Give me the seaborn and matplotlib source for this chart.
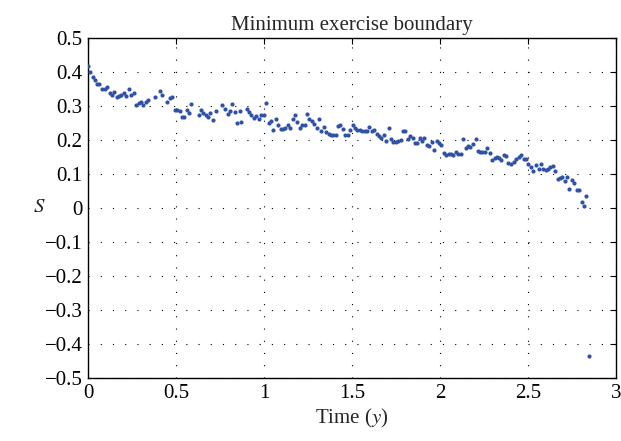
import numpy as np
import pandas as pd
import matplotlib
matplotlib.use("Agg")
import matplotlib.pyplot as plt
import seaborn as sns
from matplotlib.ticker import FuncFormatter

# time in years and minimum exercise boundary S
time_y = [
    0.002, 0.014, 0.029, 0.040, 0.053, 0.065, 0.078, 0.095, 0.108, 0.123,
    0.135, 0.150, 0.163, 0.177, 0.190, 0.203, 0.218, 0.233, 0.245, 0.260,
    0.271, 0.287, 0.300, 0.313, 0.328, 0.340, 0.381, 0.408, 0.423, 0.450,
    0.465, 0.478,
    0.493, 0.507, 0.520, 0.533, 0.546, 0.560, 0.573, 0.588, 0.630, 0.641,
    0.656, 0.670, 0.683, 0.696, 0.711, 0.725, 0.762, 0.778, 0.793, 0.806,
    0.819, 0.833, 0.846, 0.861, 0.872, 0.901, 0.914, 0.927, 0.941, 0.954,
    0.973, 0.984, 0.999, 1.013, 1.026, 1.039, 1.053, 1.068, 1.079, 1.094,
    1.108, 1.121, 1.134, 1.147, 1.163, 1.178, 1.189, 1.202, 1.216, 1.231,
    1.246, 1.257, 1.271, 1.284, 1.299, 1.312, 1.326, 1.341, 1.354, 1.367,
    1.381, 1.394, 1.407, 1.420, 1.434,
    1.447, 1.462, 1.477, 1.491, 1.504, 1.517, 1.530, 1.546, 1.557, 1.572,
    1.585, 1.599, 1.612, 1.625, 1.640, 1.656, 1.667, 1.682, 1.695, 1.711,
    1.724, 1.735, 1.748, 1.762, 1.777, 1.790, 1.803, 1.817, 1.830, 1.845,
    1.858, 1.872, 1.885, 1.898, 1.911,
    1.926, 1.938, 1.953, 1.968, 1.982, 1.995, 2.008, 2.023, 2.035, 2.050,
    2.063, 2.076, 2.090, 2.103, 2.118, 2.133, 2.147, 2.160, 2.173, 2.186,
    2.202, 2.217, 2.228, 2.240, 2.253, 2.270, 2.283, 2.296, 2.310, 2.323,
    2.336, 2.349, 2.363, 2.376, 2.389,
    2.406, 2.422, 2.433, 2.448, 2.461, 2.475, 2.490, 2.501, 2.516, 2.528,
    2.545, 2.560, 2.573, 2.587, 2.600, 2.611, 2.626, 2.640, 2.655, 2.668,
    2.683, 2.695, 2.710, 2.723, 2.734, 2.750, 2.763, 2.776, 2.791, 2.805,
    2.818, 2.831, 2.845,
]
boundary_s = [
    0.418, 0.399, 0.385, 0.376, 0.366, 0.364, 0.351, 0.349, 0.356, 0.339,
    0.331, 0.342, 0.325, 0.328, 0.331, 0.339, 0.329, 0.349, 0.333, 0.337,
    0.302, 0.310, 0.311, 0.302, 0.312, 0.319, 0.327, 0.344, 0.333, 0.312,
    0.322, 0.325,
    0.289, 0.289, 0.285, 0.269, 0.267, 0.287, 0.278, 0.305, 0.272, 0.287,
    0.278, 0.274, 0.267, 0.278, 0.260, 0.284, 0.303, 0.290, 0.276, 0.284,
    0.307, 0.283, 0.251, 0.284, 0.253, 0.290, 0.282, 0.272, 0.264, 0.270,
    0.263, 0.272, 0.274, 0.308, 0.249, 0.257, 0.229, 0.261, 0.245, 0.233,
    0.233, 0.234, 0.245, 0.235, 0.261, 0.273, 0.253, 0.235, 0.245, 0.245,
    0.275, 0.261, 0.257, 0.247, 0.235, 0.261, 0.227, 0.239, 0.223, 0.218,
    0.216, 0.216, 0.216, 0.241, 0.245,
    0.231, 0.216, 0.214, 0.228, 0.244, 0.235, 0.230, 0.230, 0.227, 0.227,
    0.227, 0.237, 0.227, 0.228, 0.217, 0.211, 0.207, 0.216, 0.197, 0.234,
    0.204, 0.194, 0.194, 0.196, 0.199, 0.225, 0.226, 0.204, 0.211, 0.207,
    0.191, 0.192, 0.206, 0.198, 0.205,
    0.184, 0.182, 0.195, 0.171, 0.196, 0.190, 0.184, 0.163, 0.155, 0.159,
    0.159, 0.155, 0.165, 0.159, 0.159, 0.202, 0.177, 0.182, 0.179, 0.189,
    0.204, 0.169, 0.165, 0.164, 0.165, 0.175, 0.162, 0.141, 0.147, 0.151,
    0.146, 0.142, 0.155, 0.154, 0.133,
    0.130, 0.134, 0.144, 0.149, 0.156, 0.145, 0.144, 0.130, 0.121, 0.108,
    0.126, 0.116, 0.128, 0.115, 0.111, 0.116, 0.120, 0.124, 0.110, 0.084,
    0.087, 0.091, 0.079, 0.090, 0.056, 0.082, 0.074, 0.053, 0.052, 0.019,
    0.005, 0.034, -0.435,
]

x_ticks = [0, 0.5, 1, 1.5, 2, 2.5, 3]
y_ticks = [-0.5, -0.4, -0.3, -0.2, -0.1, 0, 0.1, 0.2, 0.3, 0.4, 0.5]

df = pd.DataFrame({"t": time_y, "S": boundary_s})

sns.set_style("white")
plt.rcParams["font.family"] = ["Liberation Serif", "DejaVu Serif"]
plt.rcParams["mathtext.fontset"] = "stix"
plt.rcParams["axes.unicode_minus"] = True

fig = plt.figure(figsize=(6.21, 4.41), dpi=100)
ax = fig.add_axes([0.1417, 0.1429, 0.8502, 0.771])

sns.scatterplot(data=df, x="t", y="S", ax=ax, color="#3052a6", s=9,
                linewidth=0, marker="o", zorder=3)

ax.set_xlim(0, 3)
ax.set_ylim(-0.5, 0.5)
ax.set_xticks(x_ticks)
ax.set_yticks(y_ticks)

def fmt(v, pos):
    v = round(v, 6)
    if v == 0:
        return "0"
    return f"{v:g}".replace("-", "\u2212")

ax.xaxis.set_major_formatter(FuncFormatter(fmt))
ax.yaxis.set_major_formatter(FuncFormatter(fmt))

# matlab style dotted grid and boxed axes
ax.grid(True, color="black", linestyle=(0, (1, 10)), linewidth=0.8)
ax.set_axisbelow(True)
for sp in ax.spines.values():
    sp.set_visible(True)
    sp.set_color("black")
    sp.set_linewidth(1.0)

ax.tick_params(direction="in", length=4, width=0.8, top=True, right=True,
               labelsize=15, colors="black", pad=4)

ax.set_title("Minimum exercise boundary", fontsize=15, pad=6)
ax.set_xlabel("Time ($y$)", fontsize=15, labelpad=3)
ax.set_ylabel("$S$", fontsize=15, rotation=0, va="center", ha="center")
ax.yaxis.set_label_coords(-0.092, 0.5)

fig.savefig("out.png", dpi=100)
plt.close(fig)
